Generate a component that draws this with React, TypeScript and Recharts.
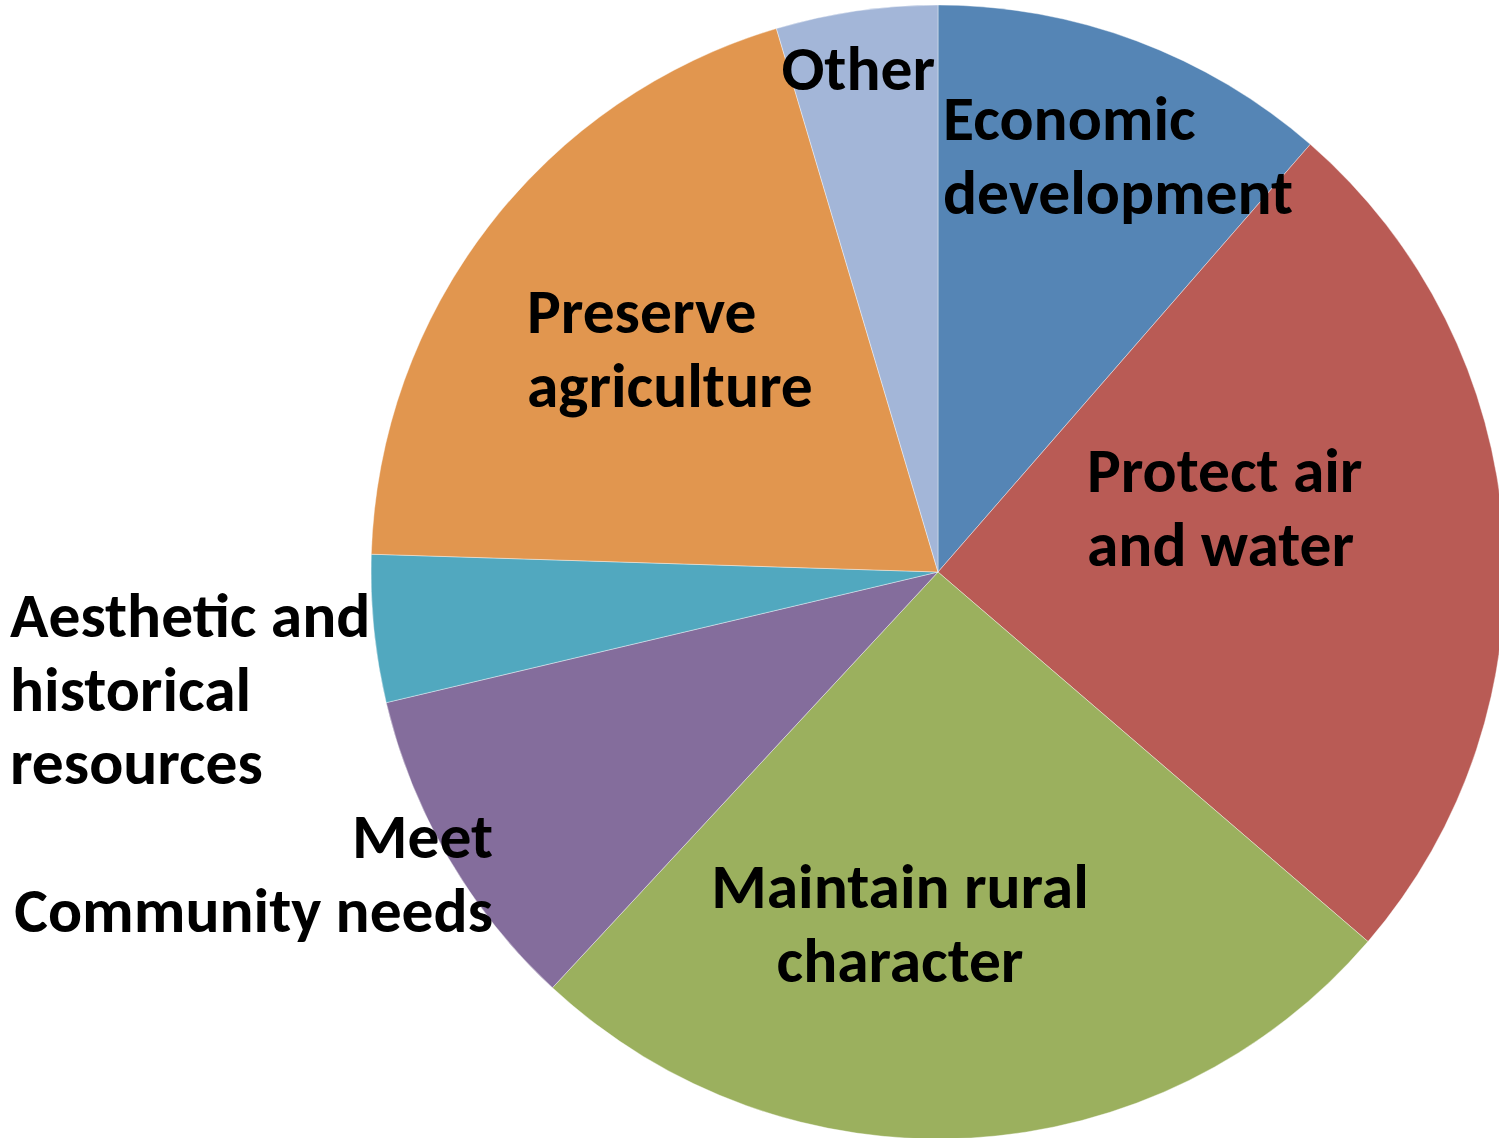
import React from 'react';
import { PieChart, Pie, Cell } from 'recharts';

// Share of responses per goal (clockwise from 12 o'clock)
const categories = [
  'Economic development',
  'Protect air and water',
  'Maintain rural character',
  'Meet Community needs',
  'Aesthetic and historical resources',
  'Preserve agriculture',
  'Other',
];
const shares = [11.4, 24.9, 25.6, 9.4, 4.2, 19.9, 4.6];
const labelLines = [
  ['Economic', 'development'],
  ['Protect air', 'and water'],
  ['Maintain rural', 'character'],
  ['Meet', 'Community needs'],
  ['Aesthetic and', 'historical', 'resources'],
  ['Preserve', 'agriculture'],
  ['Other'],
];

const COLORS = ['#5585B5', '#B95B55', '#9BB05E', '#846D9C', '#51A8BF', '#E1964F', '#A3B6D8'];

// where each label block sits, relative to the pie centre (first baseline)
const LABEL_POS = [
  { dx: 5, dy: -432, anchor: 'start' },
  { dx: 149, dy: -80, anchor: 'start' },
  { dx: -38, dy: 336, anchor: 'middle' },
  { dx: -445, dy: 286, anchor: 'end' },
  { dx: -928, dy: 65, anchor: 'start' },
  { dx: -411, dy: -239, anchor: 'start' },
  { dx: -3, dy: -482, anchor: 'end' },
];

const FONT = 'Carlito, Lato, "Open Sans", sans-serif';
const LINE_H = 73.5;

const data = categories.map((name, i) => ({ name, value: shares[i] }));

const renderLabel = ({ cx, cy, index }: any) => {
  const pos = LABEL_POS[index];
  return (
    <text
      x={cx + pos.dx}
      y={cy + pos.dy}
      textAnchor={pos.anchor}
      fill="#000"
      fontFamily={FONT}
      fontWeight="bold"
      fontSize={63.5}
    >
      {labelLines[index].map((line, j) => (
        <tspan key={j} x={cx + pos.dx} dy={j === 0 ? 0 : LINE_H}>
          {line}
        </tspan>
      ))}
    </text>
  );
};

const App: React.FC = () => {
  return (
    <div style={{ position: 'absolute', left: 0, top: 0, width: 1499, height: 1138, background: '#fff', overflow: 'hidden' }}>
      <PieChart width={1499} height={1138} margin={{ top: 0, right: 0, bottom: 0, left: 0 }}>
        <Pie
          data={data}
          dataKey="value"
          nameKey="name"
          cx={938}
          cy={572}
          outerRadius={567}
          startAngle={90}
          endAngle={-270}
          stroke="#ffffff"
          strokeWidth={0.4}
          labelLine={false}
          label={renderLabel}
          isAnimationActive={false}
        >
          {data.map((entry, index) => (
            <Cell key={`cell-${index}`} fill={COLORS[index % COLORS.length]} />
          ))}
        </Pie>
      </PieChart>
    </div>
  );
};

export default App;
